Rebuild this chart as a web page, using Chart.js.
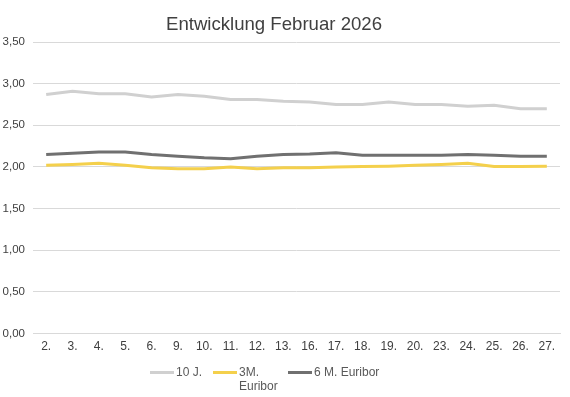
<!DOCTYPE html>
<html>
<head>
<meta charset="utf-8">
<script src="https://cdn.jsdelivr.net/npm/chart.js@4.4.1/dist/chart.umd.min.js"></script>
<style>
html,body{margin:0;padding:0;background:#fff;}
#wrap{position:relative;width:570px;height:397px;}
#legend{position:absolute;left:0;top:0;width:570px;height:397px;pointer-events:none;font-family:"Liberation Sans",Arial,sans-serif;font-size:12px;color:#595959;}
.sw{position:absolute;height:3px;width:24px;}
.tx{position:absolute;line-height:14px;white-space:nowrap;}
</style>
</head>
<body>
<div id="wrap">
<canvas id="c" width="570" height="397"></canvas>
<div id="legend"></div>
</div>
<script>
const titleText = "Entwicklung Februar 2026";
const categories = ["2.","3.","4.","5.","6.","9.","10.","11.","12.","13.","16.","17.","18.","19.","20.","23.","24.","25.","26.","27."];
const tenYear = [2.87,2.91,2.88,2.88,2.84,2.87,2.85,2.81,2.81,2.79,2.78,2.75,2.75,2.78,2.75,2.75,2.73,2.74,2.70,2.70];
const euribor3M = [2.02,2.03,2.045,2.02,1.99,1.98,1.98,2.00,1.98,1.99,1.99,2.00,2.005,2.01,2.02,2.03,2.045,2.005,2.005,2.01];
const euribor6M = [2.15,2.165,2.18,2.18,2.15,2.13,2.11,2.10,2.13,2.15,2.155,2.17,2.14,2.14,2.14,2.14,2.15,2.14,2.13,2.13];
const seriesNames = ["10 J.","3M.\nEuribor","6 M. Euribor"];
const seriesColors = ["#d0d0d0","#f4d04c","#707070"];
const yTicks = [0,0.5,1,1.5,2,2.5,3,3.5];

const FONT = "'Liberation Sans', Arial, sans-serif";
const fmt = v => v.toFixed(2).replace('.', ',');

const titlePlugin = {
  id: 'centeredTitle',
  afterDraw(chart) {
    const ctx = chart.ctx;
    ctx.save();
    ctx.font = "18.6px " + FONT;
    ctx.fillStyle = '#404040';
    ctx.textAlign = 'center';
    ctx.textBaseline = 'middle';
    ctx.fillText(titleText, chart.width / 2 - 11, 25);
    ctx.restore();
  }
};

new Chart(document.getElementById('c'), {
  type: 'line',
  data: {
    labels: categories,
    datasets: [
      {label: seriesNames[0], data: tenYear, borderColor: seriesColors[0]},
      {label: seriesNames[1], data: euribor3M, borderColor: seriesColors[1]},
      {label: seriesNames[2], data: euribor6M, borderColor: seriesColors[2]}
    ].map(d => Object.assign(d, {borderWidth: 3, pointRadius: 0, tension: 0, fill: false}))
  },
  plugins: [titlePlugin],
  options: {
    responsive: false,
    animation: false,
    devicePixelRatio: 1,
    layout: {padding: {left: 0, right: 10, top: 42, bottom: 37}},
    plugins: {
      legend: {display: false},
      tooltip: {enabled: false},
      title: {display: false}
    },
    scales: {
      x: {
        offset: true,
        grid: {display: false, drawTicks: false},
        border: {display: true, color: '#d9d9d9', width: 1},
        ticks: {color: '#404040', font: {family: FONT, size: 12}, padding: 6, maxRotation: 0, autoSkip: false}
      },
      y: {
        min: 0, max: 3.5,
        afterBuildTicks: ax => { ax.ticks = yTicks.map(v => ({value: v})); },
        afterFit: ax => { ax.width = 33; },
        grid: {color: '#d9d9d9', drawTicks: false},
        border: {display: false},
        ticks: {color: '#404040', font: {family: FONT, size: 11.5}, padding: 8, callback: v => fmt(v)}
      }
    }
  }
});

// legend
const leg = document.getElementById('legend');
const legItems = [
  {x: 150, name: seriesNames[0], color: seriesColors[0]},
  {x: 213, name: seriesNames[1], color: seriesColors[1]},
  {x: 288, name: seriesNames[2], color: seriesColors[2]}
];
legItems.forEach(it => {
  const sw = document.createElement('div');
  sw.className = 'sw';
  sw.style.left = it.x + 'px';
  sw.style.top = '371px';
  sw.style.background = it.color;
  leg.appendChild(sw);
  const tx = document.createElement('div');
  tx.className = 'tx';
  tx.style.left = (it.x + 26) + 'px';
  tx.style.top = '365px';
  tx.innerHTML = it.name.split('\n').join('<br>');
  leg.appendChild(tx);
});
</script>
</body>
</html>
